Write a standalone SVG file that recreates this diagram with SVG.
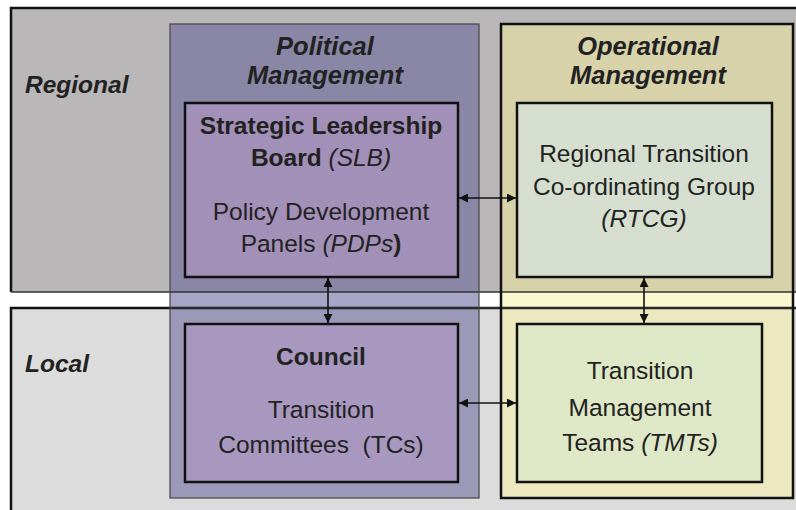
<svg xmlns="http://www.w3.org/2000/svg" width="796" height="510" viewBox="0 0 796 510">
<defs>
<marker id="ah" viewBox="0 0 10 10" refX="10" refY="5" markerWidth="10" markerHeight="9" markerUnits="userSpaceOnUse" orient="auto-start-reverse">
<path d="M0,0 L10,5 L0,10 z" fill="#111"/>
</marker>
<style>
text{font-family:"Liberation Sans",Arial,sans-serif;fill:#222;text-anchor:middle}
.hd{font-size:25.5px;font-weight:bold;font-style:italic}
.lv{font-size:24.5px;font-weight:bold;font-style:italic;text-anchor:start}
.b{font-size:24.5px}
.bb{font-weight:bold}
.it{font-style:italic}
.box{stroke:#111;stroke-width:2.5}
.conn{stroke:#111;stroke-width:1.6;fill:none;marker-start:url(#ah);marker-end:url(#ah)}
</style>
</defs>
<rect width="796" height="510" fill="#ffffff"/>
<g id="band-regional">
<rect x="11" y="8" width="800" height="284" fill="#b9b7b8"/>
</g>
<g id="band-local">
<rect x="11" y="308" width="800" height="210" fill="#dcdcdc"/>
</g>
<g id="col-political">
<rect x="170" y="24" width="309" height="268" fill="#8a87a6"/>
<rect x="170" y="292" width="309" height="16" fill="#a9a5c8"/>
<rect x="170" y="308" width="309" height="190" fill="#9c98b8"/>
</g>
<g id="col-operational">
<rect x="501" y="24" width="292" height="268" fill="#d8d2aa"/>
<rect x="501" y="292" width="292" height="16" fill="#fbf8d0"/>
<rect x="501" y="308" width="292" height="190" fill="#ece8c0"/>
</g>
<g id="band-lines" fill="none">
<path d="M11,292 V8 H800" stroke="#111" stroke-width="2.5"/>
<path d="M11,292 H800" stroke="#333" stroke-width="1.5"/>
<path d="M11,520 V308 H800" stroke="#111" stroke-width="2.5"/>
<path d="M170,308 H800" stroke="#333" stroke-width="1.5"/>
<rect x="170" y="24" width="309" height="474" stroke="#444" stroke-width="1.2"/>
<rect x="501" y="24" width="292" height="474" stroke="#111" stroke-width="2.5"/>
</g>
<g id="label-regional"><text class="lv" x="25" y="93">Regional</text></g>
<g id="label-local"><text class="lv" x="25" y="372">Local</text></g>
<g id="head-political">
<text class="hd" x="325" y="55">Political</text>
<text class="hd" x="325" y="84">Management</text>
</g>
<g id="head-operational">
<text class="hd" x="648" y="55">Operational</text>
<text class="hd" x="648" y="84">Management</text>
</g>
<g id="node-slb">
<rect class="box" x="185" y="103" width="273" height="174" fill="#a290b8"/>
<text class="b bb" x="321" y="134">Strategic Leadership</text>
<text class="b" x="321" y="166"><tspan class="bb">Board </tspan><tspan class="it">(SLB)</tspan></text>
<text class="b" x="321" y="220">Policy Development</text>
<text class="b" x="321" y="252">Panels <tspan class="it">(PDPs</tspan><tspan class="bb">)</tspan></text>
</g>
<g id="node-rtcg">
<rect class="box" x="517" y="103" width="255" height="174" fill="#d6dfcf"/>
<text class="b" x="644" y="162">Regional Transition</text>
<text class="b" x="644" y="195">Co-ordinating Group</text>
<text class="b it" x="644" y="227">(RTCG)</text>
</g>
<g id="node-council">
<rect class="box" x="185" y="324" width="273" height="158" fill="#a898bf"/>
<text class="b bb" x="321" y="365">Council</text>
<text class="b" x="321" y="418">Transition</text>
<text class="b" x="321" y="453" xml:space="preserve">Committees  (TCs)</text>
</g>
<g id="node-tmt">
<rect class="box" x="517" y="324" width="245" height="158" fill="#dfe8c6"/>
<text class="b" x="640" y="379">Transition</text>
<text class="b" x="640" y="416">Management</text>
<text class="b" x="640" y="451">Teams <tspan class="it">(TMTs)</tspan></text>
</g>
<g id="connectors">
<line class="conn" x1="459" y1="198" x2="516" y2="198"/>
<line class="conn" x1="328" y1="278" x2="328" y2="323"/>
<line class="conn" x1="644" y1="278" x2="644" y2="323"/>
<line class="conn" x1="459" y1="403" x2="516" y2="403"/>
</g>
</svg>
